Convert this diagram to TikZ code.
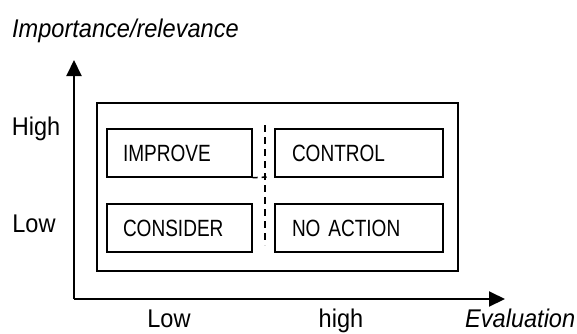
\documentclass[tikz,border=0pt]{standalone}
\usepackage{fontspec}
\setmainfont{Liberation Sans}[FakeStretch=0.92]
\newfontfamily\narrowfont{Liberation Sans}[FakeStretch=0.81]
\usetikzlibrary{arrows.meta}
\begin{document}
\begin{tikzpicture}[line join=miter,>={Triangle[length=16pt,width=15pt]},x=1pt,y=-1pt]
	\tikzset{quad/.style={draw,line width=1.4pt,minimum height=48pt,inner xsep=16pt,align=left,font=\narrowfont\fontsize{23.5}{27}\selectfont},
		lbl/.style={font=\fontsize{25.6}{30}\selectfont}}
	\useasboundingbox (0,0) rectangle (577,333);
	% axes
	\coordinate (O) at (74,299); \coordinate (ytop) at (74,60); \coordinate (xend) at (505,299);
	\draw[line width=2pt,->] (O)--(ytop);
	\draw[line width=2pt,->] (O)--(xend);
	\node[lbl,anchor=base west,inner sep=0pt] (ylab) at (12,37) {\itshape Importance/relevance};
	\node[lbl,anchor=base] (yhigh) at (36,135) {High};
	\node[lbl,anchor=base] (ylow) at (34,232) {Low};
	\node[lbl,anchor=base] (xlow) at (169,327) {Low};
	\node[lbl,anchor=base] (xhigh) at (341,327) {high};
	\node[lbl,anchor=base west,inner sep=0pt] (xlab) at (465,327) {\itshape Evaluation};
	% matrix
	\draw[line width=2pt] (97,103) rectangle (458,271);
	\node[quad,minimum width=145pt,text width=113pt] (improve) at (179.5,153) {IMPROVE};
	\node[quad,minimum width=168pt,text width=134pt] (control) at (359,153) {CONTROL};
	\node[quad,minimum width=145pt,text width=113pt] (consider) at (179.5,228) {CONSIDER};
	\node[quad,minimum width=168pt,text width=134pt] (noaction) at (359,228) {NO ACTION};
	\coordinate (dtop) at (265,125); \coordinate (dbot) at (265,245); \coordinate (dmid) at (268,177);
	\draw[line width=1.5pt,dash pattern=on 7pt off 5pt] (dtop)--(dbot);
	\draw[line width=1.5pt,dash pattern=on 5pt off 4pt,yshift=3pt] (improve.south east)--(dmid);
\end{tikzpicture}
\end{document}
